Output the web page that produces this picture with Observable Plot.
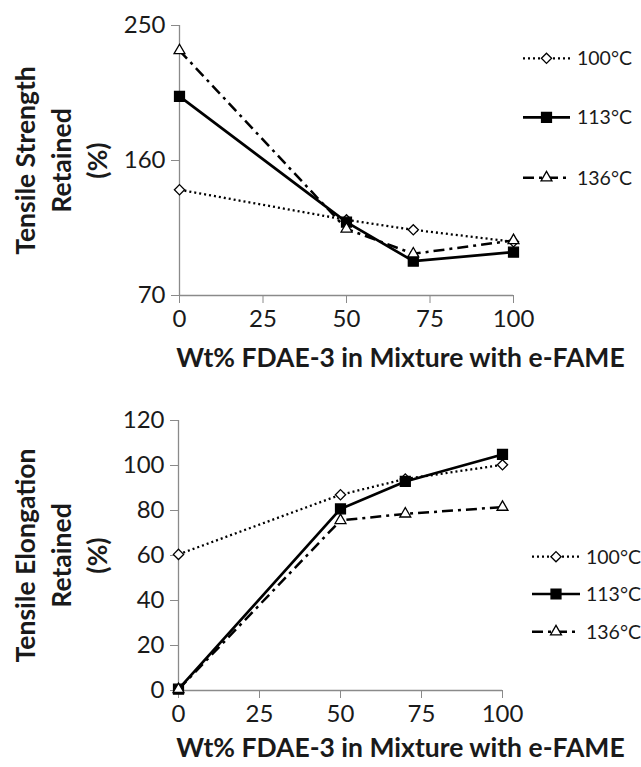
<!DOCTYPE html>
<html><head><meta charset="utf-8">
<script src="https://cdn.jsdelivr.net/npm/d3@7"></script>
<script src="https://cdn.jsdelivr.net/npm/@observablehq/plot@0.6"></script>
<style>
body{margin:0;background:#fff;}
#chart{width:641px;}
#chart svg{display:block;}
</style></head><body><div id="chart"></div>
<script>
// ---- data ----
const wtPct = [0, 50, 70, 100];
const seriesNames = ["100°C", "113°C", "136°C"];
const strength100 = [140.5, 120.4, 113.8, 105.8];
const strength113 = [202.7, 118.9, 92.9, 98.9];
const strength136 = [233.3, 114.4, 97.8, 106.7];
const elong100 = [60.5, 87.0, 94.0, 100.3];
const elong113 = [0.6, 80.7, 92.9, 104.9];
const elong136 = [0.5, 75.6, 78.5, 81.5];
const strengthTicks = [70, 160, 250];
const elongTicks = [0, 20, 40, 60, 80, 100, 120];
const xTicks = [0, 25, 50, 75, 100];
const xTitle = "Wt% FDAE-3 in Mixture with e-FAME";
const strengthTitle = ["Tensile Strength", "Retained", "(%)"];
const elongTitle = ["Tensile Elongation", "Retained", "(%)"];

const FONT = "Lato, 'Open Sans', sans-serif";
const INK = "#1a1a1a";
const styles = {
  "100°C": {dash: "2,3", width: 2.3, symbol: "diamond2", d3sym: d3.symbolDiamond2, r: 4.6, fill: "white"},
  "113°C": {dash: null, width: 2.7, symbol: "square", d3sym: d3.symbolSquare, r: 5.6, fill: "black"},
  "136°C": {dash: "11,5,3,5", width: 2.5, symbol: "triangle2", d3sym: d3.symbolTriangle2, r: 5.2, fill: "white"}
};

function toRows(vals) {
  return seriesNames.flatMap((name, i) => wtPct.map((x, j) => ({series: name, x, y: vals[i][j]})));
}

function makeChart(o) {
  const rows = toRows(o.values);
  const marks = [
    Plot.ruleX([0], {stroke: "#8a8a8a", strokeWidth: 1.3}),
    Plot.ruleY([o.yDomain[0]], {stroke: "#8a8a8a", strokeWidth: 1.3}),
    Plot.axisY({ticks: o.yTicks, tickSize: 8, tickPadding: 6, stroke: "#8a8a8a", fill: INK, label: null, tickFormat: d => String(d)}),
    Plot.axisX({ticks: xTicks, tickSize: 8, tickPadding: 6, stroke: "#8a8a8a", fill: INK, label: null, tickFormat: d => String(d)})
  ];
  for (const name of seriesNames) {
    const s = styles[name];
    const data = rows.filter(d => d.series === name);
    marks.push(Plot.line(data, {x: "x", y: "y", stroke: "#000", strokeWidth: s.width, strokeDasharray: s.dash, strokeLinecap: "butt"}));
    marks.push(Plot.dot(data, {x: "x", y: "y", symbol: () => s.symbol, r: s.r, fill: s.fill, stroke: "#000", strokeWidth: 1.3}));
  }
  marks.push(Plot.text([o.yTitle.join("\n")], {
    text: d => d, frameAnchor: "left", rotate: -90, dx: o.yTitleX - o.margins[3],
    fontWeight: "bold", fontSize: 26.5, lineHeight: 1.36, lineAnchor: "middle", textAnchor: "middle", fill: INK
  }));
  marks.push(Plot.text([xTitle], {
    text: d => d, frameAnchor: "bottom", dx: o.xTitleDx, dy: o.xTitleDy,
    fontWeight: "bold", fontSize: 26.5, lineAnchor: "middle", fill: INK
  }));
  const svg = Plot.plot({
    width: 641, height: o.height,
    marginTop: o.margins[0], marginRight: o.margins[1], marginBottom: o.margins[2], marginLeft: o.margins[3],
    x: {domain: [0, 100]},
    y: {domain: o.yDomain},
    style: {fontFamily: FONT, fontSize: "24px", background: "white", overflow: "visible"},
    marks
  });
  // legend
  const g = d3.select(svg).append("g").attr("font-family", FONT).attr("font-size", 19.5).attr("text-anchor", "start");
  seriesNames.forEach((name, i) => {
    const s = styles[name];
    const y = o.legend.ys[i];
    g.append("line").attr("x1", o.legend.x1).attr("x2", o.legend.x2).attr("y1", y).attr("y2", y)
      .attr("stroke", "#000").attr("stroke-width", s.width).attr("stroke-dasharray", s.dash);
    g.append("path").attr("d", d3.symbol(s.d3sym, Math.PI * s.r * s.r)())
      .attr("transform", `translate(${(o.legend.x1 + o.legend.x2) / 2},${y})`)
      .attr("fill", s.fill).attr("stroke", "#000").attr("stroke-width", 1.3);
    g.append("text").attr("x", o.legend.tx).attr("y", y).attr("dy", "0.35em").attr("fill", INK).text(name);
  });
  return svg;
}

const topChart = makeChart({
  values: [strength100, strength113, strength136],
  yDomain: [70, 250], yTicks: strengthTicks, yTitle: strengthTitle,
  height: 380, margins: [25, 128, 85, 179],
  yTitleX: 59, xTitleDx: 54, xTitleDy: 63,
  legend: {x1: 523, x2: 570, tx: 577, ys: [58.3, 117.3, 177.7]}
});
const bottomChart = makeChart({
  values: [elong100, elong113, elong136],
  yDomain: [0, 120], yTicks: elongTicks, yTitle: elongTitle,
  height: 387, margins: [40, 139, 77, 178],
  yTitleX: 59, xTitleDx: 60, xTitleDy: 58,
  legend: {x1: 532, x2: 580, tx: 586, ys: [176.7, 214, 251.7]}
});
document.getElementById("chart").append(topChart, bottomChart);
</script>
</body></html>
